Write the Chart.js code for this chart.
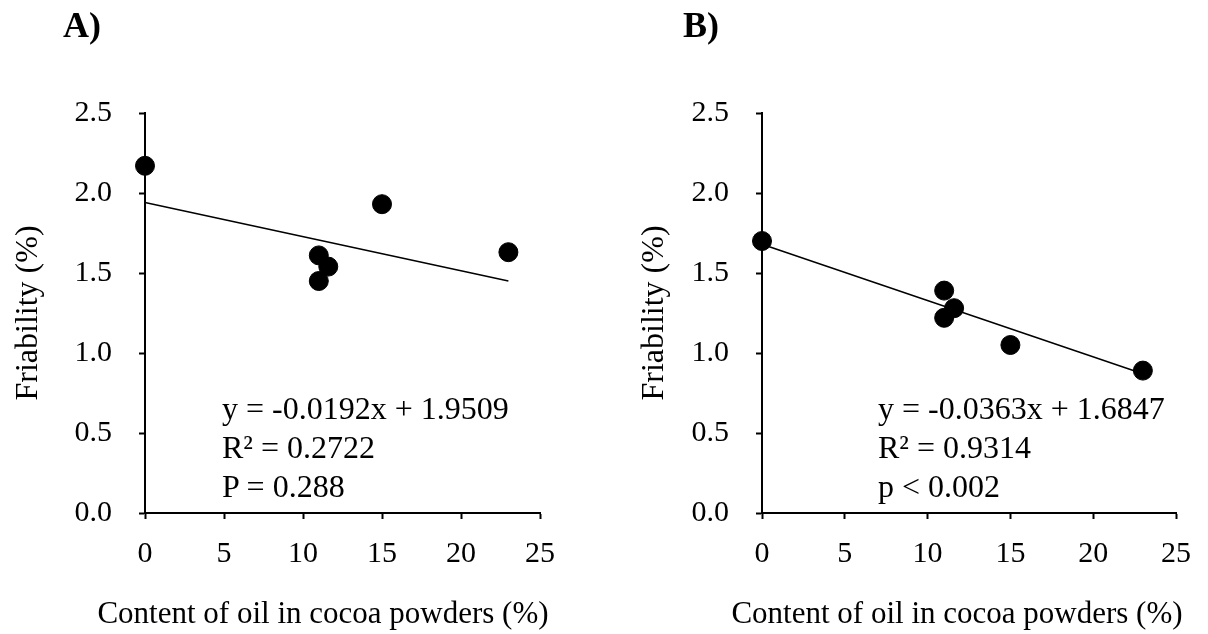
<!DOCTYPE html>
<html>
<head>
<meta charset="utf-8">
<script src="https://cdn.jsdelivr.net/npm/chart.js@4/dist/chart.umd.min.js"></script>
<style>
  body { margin: 0; background: #fff; }
  #wrap { position: relative; width: 1208px; height: 634px; font-family: "Liberation Serif", "Times New Roman", serif; color: #000; }
  .panel { position: absolute; top: 0; width: 604px; height: 634px; }
  .txt { position: absolute; white-space: nowrap; }
  .tag { font-weight: bold; font-size: 36px; line-height: 1; top: 7px; }
  .xt { font-size: 31px; line-height: 1; top: 597px; width: 600px; text-align: center; }
  .eq { font-size: 32px; line-height: 39px; top: 389px; }
</style>
</head>
<body>
<div id="wrap">
  <div class="panel" style="left:0"><canvas id="chartA" width="604" height="634"></canvas></div>
  <div class="panel" style="left:604px"><canvas id="chartB" width="604" height="634"></canvas></div>

  <div class="txt tag" style="left:63px">A)</div>
  <div class="txt tag" style="left:683px">B)</div>

  <div class="txt xt" style="left:23px">Content of oil in cocoa powders (%)</div>
  <div class="txt xt" style="left:657px">Content of oil in cocoa powders (%)</div>

  <div class="txt eq" style="left:222px">y = -0.0192x + 1.9509<br>R² = 0.2722<br>P = 0.288</div>
  <div class="txt eq" style="left:878px">y = -0.0363x + 1.6847<br>R² = 0.9314<br>p &lt; 0.002</div>
</div>

<script>
// oil content (%) and friability (%)
const oilA = [0, 11, 11, 11.6, 15, 23];
const friabilityA = [2.17, 1.61, 1.45, 1.54, 1.93, 1.63];
const oilB = [0, 11, 11, 11.6, 15, 23];
const friabilityB = [1.70, 1.39, 1.22, 1.28, 1.05, 0.89];

// ends of the fitted lines as drawn
const trendXA = [0, 23];
const trendYA = [1.94, 1.45];
const trendXB = [0, 23];
const trendYB = [1.68, 0.87];

const xTicks = [0, 5, 10, 15, 20, 25];
const yTicks = [0, 0.5, 1.0, 1.5, 2.0, 2.5];

Chart.defaults.font.family = '"Liberation Serif", "Times New Roman", serif';
Chart.defaults.color = '#000';

function toPoints(xs, ys) {
    return xs.map(function(x, i) { return { x: x, y: ys[i] }; });
}

function makeChart(id, xs, ys, tx, ty, axisLeft, rightPad, titlePad) {
    const ctx = document.getElementById(id).getContext('2d');
    return new Chart(ctx, {
        type: 'scatter',
        data: {
            datasets: [{
                data: toPoints(xs, ys),
                backgroundColor: '#000',
                borderColor: '#000',
                pointRadius: 9.5,
                pointHoverRadius: 9.5,
                clip: false
            }, {
                type: 'line',
                data: toPoints(tx, ty),
                borderColor: '#000',
                borderWidth: 1.5,
                pointRadius: 0,
                fill: false,
                clip: false
            }]
        },
        options: {
            responsive: false,
            animation: false,
            devicePixelRatio: 1,
            layout: { padding: { top: 113, right: rightPad, left: 0, bottom: 0 } },
            plugins: { legend: { display: false }, tooltip: { enabled: false } },
            scales: {
                x: {
                    type: 'linear',
                    min: xTicks[0],
                    max: xTicks[xTicks.length - 1],
                    afterBuildTicks: function(s) { s.ticks = xTicks.map(function(v) { return { value: v }; }); },
                    ticks: { font: { size: 30 }, color: '#000', padding: 17 },
                    grid: { drawOnChartArea: false, drawTicks: true, tickLength: 6, tickColor: '#000', tickWidth: 2 },
                    border: { color: '#000', width: 2 },
                    afterFit: function(s) { s.height = 121; }
                },
                y: {
                    min: yTicks[0],
                    max: yTicks[yTicks.length - 1],
                    afterBuildTicks: function(s) { s.ticks = yTicks.map(function(v) { return { value: v }; }); },
                    ticks: {
                        font: { size: 30 },
                        color: '#000',
                        padding: 27,
                        callback: function(v) { return Number(v).toFixed(1); }
                    },
                    grid: { drawOnChartArea: false, drawTicks: true, tickLength: 6, tickColor: '#000', tickWidth: 2 },
                    border: { color: '#000', width: 2 },
                    title: {
                        display: true,
                        text: 'Friability (%)',
                        color: '#000',
                        font: { size: 32 },
                        padding: { top: 9 + titlePad, bottom: 0 }
                    },
                    afterFit: function(s) { s.width = axisLeft; }
                }
            }
        }
    });
}

makeChart('chartA', oilA, friabilityA, trendXA, trendYA, 145, 64, 0);
makeChart('chartB', oilB, friabilityB, trendXB, trendYB, 158, 28, 22);
</script>
</body>
</html>
